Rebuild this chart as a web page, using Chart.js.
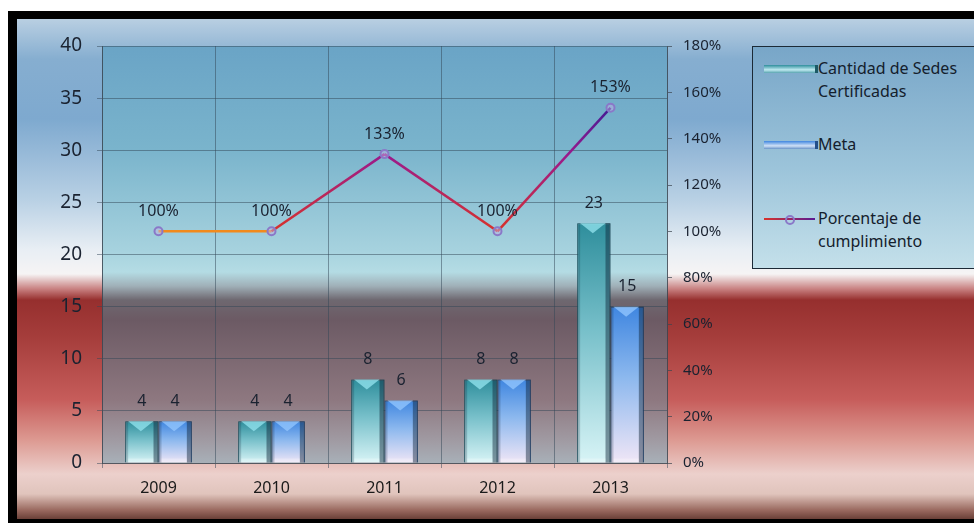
<!DOCTYPE html>
<html>
<head>
<meta charset="utf-8">
<script src="https://cdn.jsdelivr.net/npm/chart.js@4/dist/chart.umd.min.js"></script>
<style>
    body { margin: 0; background: #fff; width: 974px; height: 523px; overflow: hidden; position: relative; font-family: 'Noto Sans', sans-serif; }
    #frame { position: absolute; left: 8px; top: 11px; width: 966px; height: 512px; background: #000; }
    #wrap { position: absolute; left: 17px; top: 19px; width: 957px; height: 500px; }
    #legend { position: absolute; left: 752px; top: 46px; width: 240px; height: 221px; border: 1px solid #1c2a36;
        background: linear-gradient(#78a6c8, #9cc4da 55%, #c4e0ea); color: #14202c; font-size: 16px; line-height: 23px; }
    .item { position: absolute; left: 65px; }
    .sw { position: absolute; left: -54px; width: 51px; }
</style>
</head>
<body>
<div id="frame"></div>
<div id="wrap"><canvas id="chart" width="957" height="500"></canvas></div>
<div id="legend">
    <div class="item" style="top:10px">Cantidad de Sedes<br>Certificadas
        <div class="sw" style="top:8px;height:8px;background:linear-gradient(#2e8e9c,#bfeaf0 60%,#5aa4b0);border-right:3px solid #1d5a66"></div>
    </div>
    <div class="item" style="top:86px">Meta
        <div class="sw" style="top:8px;height:8px;background:linear-gradient(#3f86e0,#cfe0f6 60%,#6a94c8);border-right:3px solid #24508a"></div>
    </div>
    <div class="item" style="top:160px">Porcentaje de<br>cumplimiento
        <div class="sw" style="top:11px;height:2px;background:linear-gradient(90deg,#d8322a,#5a1a94)"></div>
        <div class="sw" style="top:8px;left:-33px;width:6px;height:6px;border:2px solid #8a78c8;border-radius:50%"></div>
    </div>
</div>
<script>
// Data
const years = ['2009', '2010', '2011', '2012', '2013'];
const sedesCertificadas = [4, 4, 8, 8, 23];
const meta = [4, 4, 6, 8, 15];
const cumplimiento = [100, 100, 133.33, 100, 153.33];

const leftTicks = { min: 0, max: 40, step: 5 };
const rightTicks = { min: 0, max: 180, step: 20 };

// Backgrounds

const bgPlugin = {
    id: 'bg',
    beforeDraw(chart) {
        const { ctx, width, height, chartArea: a } = chart;
        let g = ctx.createLinearGradient(0, 0, 0, height);
        [[0, '#b9cfe2'], [0.08, '#86aed0'], [0.2, '#7ea9cf'], [0.36, '#b8d0e4'],
         [0.46, '#e8eef4'], [0.51, '#f6f4f4'], [0.54, '#c88080'], [0.562, '#962f2e'],
         [0.64, '#a63e3c'], [0.76, '#c65c5a'], [0.84, '#dc9890'], [0.91, '#ecd0cc'],
         [0.95, '#e0c4bc'], [0.982, '#9a6a60'], [1, '#6a4038']].forEach(s => g.addColorStop(s[0], s[1]));
        ctx.save();
        ctx.fillStyle = g;
        ctx.fillRect(0, 0, width, height);

        let h = a.bottom - a.top;
        let p = y => (y - 19 - a.top) / h;
        let pg = ctx.createLinearGradient(0, a.top, 0, a.bottom);
        [[46, '#6aa4c6'], [150, '#7ab4cc'], [250, '#a6d2de'], [272, '#b4dce4'], [286, '#a0b0b8'],
         [300, '#6e6870'], [320, '#6c5a64'], [400, '#8e7880'], [440, '#a09aa2'], [463, '#a8b0b8']]
            .forEach(s => pg.addColorStop(Math.min(1, Math.max(0, p(s[0]))), s[1]));
        ctx.fillStyle = pg;
        ctx.fillRect(a.left, a.top, a.right - a.left, h);
        ctx.restore();
    }
};

// Bar bevels and value labels

const decoPlugin = {
    id: 'deco',
    afterDatasetsDraw(chart) {
        const ctx = chart.ctx;
        ctx.save();
        [0, 1].forEach(di => {
            chart.getDatasetMeta(di).data.forEach(bar => {
                let l = bar.x - bar.width / 2, r = bar.x + bar.width / 2, t = bar.y, b = bar.base;
                ctx.fillStyle = 'rgba(10,30,50,0.2)';
                ctx.fillRect(l, t, 3, b - t);
                ctx.fillStyle = 'rgba(10,30,50,0.45)';
                ctx.fillRect(r - 5, t, 5, b - t);
                ctx.fillStyle = 'rgba(255,255,255,0.25)';
                ctx.fillRect(l + 3, b - 4, r - l - 8, 4);
                ctx.fillStyle = di === 0 ? 'rgba(150,230,240,0.75)' : 'rgba(150,200,255,0.75)';
                ctx.beginPath();
                ctx.moveTo(l + 3, t);
                ctx.lineTo(r - 5, t);
                ctx.lineTo(bar.x - 1, t + 10);
                ctx.closePath();
                ctx.fill();
            });
        });

        ctx.fillStyle = '#1a2230';
        ctx.textAlign = 'center';
        ctx.textBaseline = 'middle';
        ctx.font = '16px "Noto Sans"';
        chart.data.datasets.forEach((ds, di) => {
            chart.getDatasetMeta(di).data.forEach((el, i) => {
                let v = ds.data[i];
                if (ds.type === 'line') ctx.fillText(Math.round(v) + '%', el.x, el.y - 20);
                else ctx.fillText(v, el.x, el.y - 20);
            });
        });
        ctx.restore();
    }
};

function barFill(top, bottom) {
    return c => {
        let y = c.chart.scales.y;
        if (!y || !c.parsed) return top;
        let y0 = y.getPixelForValue(c.parsed.y), y1 = y.getPixelForValue(0);
        if (!isFinite(y0) || !isFinite(y1)) return top;
        let g = c.chart.ctx.createLinearGradient(0, y0, 0, y1);
        g.addColorStop(0, top);
        g.addColorStop(0.45, c.datasetIndex === 0 ? '#78c0ca' : '#8cb8ee');
        g.addColorStop(1, bottom);
        return g;
    };
}

function lineGrad(chart) {
    let y1 = chart.scales.y1;
    if (!y1) return '#9a1a8c';
    let a = y1.getPixelForValue(100), b = y1.getPixelForValue(155);
    if (!isFinite(a) || !isFinite(b)) return '#9a1a8c';
    let g = chart.ctx.createLinearGradient(0, a, 0, b);
    g.addColorStop(0, '#d8322a');
    g.addColorStop(0.6, '#9a1a8c');
    g.addColorStop(1, '#3c1a94');
    return g;
}

const gridColor = 'rgba(50,70,85,0.5)';
const tickFont = size => ({ family: 'Noto Sans', size: size });

new Chart(document.getElementById('chart'), {
    data: {
        labels: years,
        datasets: [
            {
                type: 'bar',
                label: 'Cantidad de Sedes Certificadas',
                data: sedesCertificadas,
                backgroundColor: barFill('#2e8e9c', '#d8f4f6'),
                borderColor: '#23606c',
                borderWidth: 1,
                yAxisID: 'y',
                order: 1,
                categoryPercentage: 0.59,
                barPercentage: 1
            },
            {
                type: 'bar',
                label: 'Meta',
                data: meta,
                backgroundColor: barFill('#3f86e0', '#f0e6f6'),
                borderColor: '#2a5488',
                borderWidth: 1,
                yAxisID: 'y',
                order: 1,
                categoryPercentage: 0.59,
                barPercentage: 1
            },
            {
                type: 'line',
                label: 'Porcentaje de cumplimiento',
                data: cumplimiento,
                yAxisID: 'y1',
                order: 0,
                borderColor: '#9a1a8c',
                borderWidth: 2.5,
                tension: 0,
                pointRadius: 4,
                pointBorderWidth: 2,
                pointBorderColor: '#8a78c8',
                pointBackgroundColor: 'rgba(190,180,225,0.5)',
                segment: {
                    borderColor: c => (c.p0DataIndex === 0 ? '#f28a1c' : lineGrad(c.chart))
                }
            }
        ]
    },
    options: {
        responsive: false,
        animation: false,
        layout: { padding: { top: 27 } },
        plugins: { legend: { display: false }, tooltip: { enabled: false } },
        scales: {
            x: {
                offset: true,
                grid: { offset: true, color: gridColor, tickLength: 5 },
                border: { color: 'rgba(60,70,80,0.7)' },
                ticks: { font: tickFont(16), color: '#1a1a1a', padding: 11 },
                afterFit: s => { s.height = 56; }
            },
            y: {
                position: 'left',
                min: leftTicks.min,
                max: leftTicks.max,
                ticks: { stepSize: leftTicks.step, font: tickFont(19), color: '#1a2230', padding: 15 },
                grid: { color: gridColor, tickLength: 5 },
                border: { color: 'rgba(60,70,80,0.7)' },
                afterFit: s => { s.width = 85; }
            },
            y1: {
                position: 'right',
                min: rightTicks.min,
                max: rightTicks.max,
                ticks: { stepSize: rightTicks.step, font: tickFont(15), color: '#1a2230', padding: 11,
                    callback: v => v + '%' },
                grid: { drawOnChartArea: false, color: 'rgba(60,70,80,0.7)', tickLength: 5 },
                border: { color: 'rgba(60,70,80,0.7)' },
                afterFit: s => { s.width = 307; }
            }
        }
    },
    plugins: [bgPlugin, decoPlugin]
});
</script>
</body>
</html>
